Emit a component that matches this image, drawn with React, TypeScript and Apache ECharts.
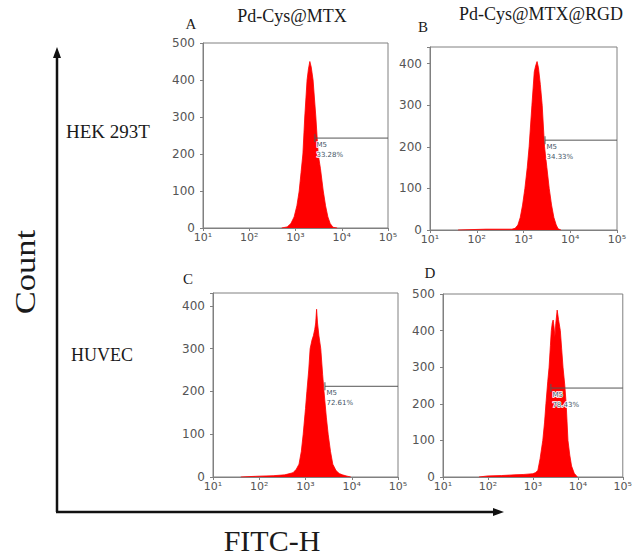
import React, { useEffect, useRef } from "react";
import * as echarts from "echarts";

// ---- data ----
const panelLetters = ["A", "B", "C", "D"];
const columnTitles = ["Pd-Cys@MTX", "Pd-Cys@MTX@RGD"];
const rowLabels = ["HEK 293T", "HUVEC"];
const xTickExponents = [1, 2, 3, 4, 5];
const yMaxes = [500, 440, 430, 500];

const aExp = [2.7, 2.82, 2.9, 2.97, 3.03, 3.08, 3.12, 3.16, 3.2, 3.25, 3.28, 3.31, 3.34, 3.38, 3.44, 3.49, 3.54, 3.6, 3.65, 3.7, 3.75, 3.81, 3.9];
const aCount = [0, 3, 12, 30, 60, 100, 150, 200, 300, 400, 430, 450, 435, 400, 300, 200, 160, 100, 60, 30, 12, 2, 0];

const bExp = [1.6, 2.2, 2.75, 2.82, 2.88, 2.93, 2.98, 3.03, 3.08, 3.12, 3.18, 3.23, 3.26, 3.29, 3.32, 3.36, 3.4, 3.45, 3.5, 3.55, 3.6, 3.65, 3.7, 3.74, 3.8];
const bCount = [0, 2, 2, 4, 12, 30, 60, 100, 150, 200, 300, 380, 395, 405, 390, 350, 300, 200, 150, 100, 60, 30, 12, 3, 0];

const cExp = [1.6, 2.0, 2.3, 2.55, 2.73, 2.8, 2.86, 2.91, 2.95, 3.0, 3.03, 3.07, 3.1, 3.14, 3.17, 3.2, 3.22, 3.24, 3.26, 3.29, 3.33, 3.37, 3.4, 3.45, 3.49, 3.54, 3.59, 3.66, 3.73, 3.8, 3.9, 3.98];
const cCount = [0, 2, 3, 5, 10, 18, 30, 60, 100, 160, 200, 250, 300, 320, 330, 345, 360, 392, 360, 330, 300, 240, 200, 140, 100, 60, 30, 15, 8, 5, 2, 0];

const dExp = [1.8, 2.0, 2.3, 2.6, 2.8, 3.0, 3.06, 3.11, 3.16, 3.22, 3.26, 3.29, 3.33, 3.36, 3.39, 3.41, 3.43, 3.45, 3.47, 3.49, 3.51, 3.54, 3.57, 3.61, 3.64, 3.67, 3.71, 3.74, 3.78, 3.82, 3.86, 3.92, 3.99];
const dCount = [0, 3, 4, 6, 7, 9, 12, 18, 50, 100, 150, 200, 260, 300, 360, 400, 420, 429, 410, 383, 420, 456, 430, 400, 350, 300, 250, 200, 100, 60, 30, 10, 0];

const histExp = [aExp, bExp, cExp, dExp];
const histCount = [aCount, bCount, cCount, dCount];

const m5Start = [3.42, 3.46, 3.42, 3.4];
const m5Level = [243, 216, 212, 243];
const m5Pct = ["33.28%", "34.33%", "72.61%", "78.43%"];

// ---- layout ----
const grids = [
  { left: 203, top: 43, width: 185, height: 185 },
  { left: 430, top: 47, width: 187, height: 183 },
  { left: 213, top: 293, width: 185, height: 184 },
  { left: 443, top: 294, width: 187, height: 183 },
];

const SUP: Record<string, string> = { "0": "⁰", "1": "¹", "2": "²", "3": "³", "4": "⁴", "5": "⁵", "6": "⁶" };

const serif = "'Liberation Serif', 'DejaVu Serif', serif";

export default function App() {
  const ref = useRef<HTMLDivElement>(null);
  useEffect(() => {
    if (!ref.current) return;
    const chart = echarts.init(ref.current, null, { renderer: "svg" });

    const xAxis = grids.map((_, i) => ({
      type: "log",
      logBase: 10,
      gridIndex: i,
      min: Math.pow(10, xTickExponents[0]),
      max: Math.pow(10, xTickExponents[xTickExponents.length - 1]),
      axisLine: { show: true, lineStyle: { color: "#808080", width: 1 } },
      axisTick: { show: true, length: 3, lineStyle: { color: "#808080" } },
      minorTick: { show: false },
      splitLine: { show: false },
      axisLabel: {
        color: "#555",
        fontSize: 11,
        fontFamily: "'DejaVu Sans', sans-serif",
        margin: 4,
        formatter: (v: number) => {
          const e = String(Math.round(Math.log10(v)));
          return "10" + e.split("").map((c) => SUP[c] || c).join("");
        },
      },
    }));

    const yAxis = grids.map((_, i) => ({
      type: "value",
      gridIndex: i,
      min: 0,
      max: yMaxes[i],
      interval: 100,
      axisLine: { show: true, lineStyle: { color: "#808080", width: 1 } },
      axisTick: { show: true, length: 3, lineStyle: { color: "#808080" } },
      splitLine: { show: false },
      axisLabel: {
        color: "#555",
        fontSize: 12,
        fontFamily: "'DejaVu Sans', sans-serif",
        margin: 8,
        formatter: (v: number) => (v % 100 === 0 ? String(v) : ""),
      },
    }));

    const series: any[] = [];
    grids.forEach((_, i) => {
      series.push({
        type: "line",
        xAxisIndex: i,
        yAxisIndex: i,
        showSymbol: false,
        symbol: "none",
        smooth: false,
        lineStyle: { color: "#ff0000", width: 0.8 },
        areaStyle: { color: "#ff0000", opacity: 1 },
        data: histExp[i].map((e, k) => [Math.pow(10, e), histCount[i][k]]),
        z: 2,
      });
      series.push({
        type: "line",
        xAxisIndex: i,
        yAxisIndex: i,
        lineStyle: { color: "#555", width: 1 },
        z: 3,
        data: [
          {
            value: [Math.pow(10, m5Start[i]), m5Level[i]],
            symbol: "rect",
            symbolSize: [1, 8],
            itemStyle: { color: "#555" },
            label: {
              show: true,
              position: [2, 6],
              align: "left",
              verticalAlign: "top",
              formatter: "M5\n" + m5Pct[i],
              fontSize: 7,
              lineHeight: 10,
              color: "#445566",
              textBorderColor: "#ffffff",
              textBorderWidth: 1.5,
              fontFamily: "'DejaVu Sans', sans-serif",
            },
          },
          {
            value: [Math.pow(10, xTickExponents[xTickExponents.length - 1]), m5Level[i]],
            symbol: "none",
          },
        ],
      });
    });

    const textStyle = (size: number) => ({ fill: "#1a1a1a", font: `${size}px ${serif}` });

    const graphic: any[] = [
      // big axes
      { type: "line", shape: { x1: 57, y1: 56, x2: 57, y2: 512 }, style: { stroke: "#111", lineWidth: 2.5 } },
      { type: "line", shape: { x1: 56, y1: 512, x2: 495, y2: 512 }, style: { stroke: "#111", lineWidth: 2.5 } },
      { type: "polygon", shape: { points: [[57, 47], [53, 58], [61, 58]] }, style: { fill: "#111" } },
      { type: "polygon", shape: { points: [[504, 512], [493, 508], [493, 516]] }, style: { fill: "#111" } },
      // titles
      { type: "text", x: 292, y: 25, style: { ...textStyle(18), text: columnTitles[0], textAlign: "center", textVerticalAlign: "bottom" } },
      { type: "text", x: 541, y: 23, style: { ...textStyle(18), text: columnTitles[1], textAlign: "center", textVerticalAlign: "bottom" } },
      { type: "text", x: 191, y: 31, style: { ...textStyle(15), text: panelLetters[0], textAlign: "center", textVerticalAlign: "bottom" } },
      { type: "text", x: 423, y: 34, style: { ...textStyle(15), text: panelLetters[1], textAlign: "center", textVerticalAlign: "bottom" } },
      { type: "text", x: 188, y: 286, style: { ...textStyle(15), text: panelLetters[2], textAlign: "center", textVerticalAlign: "bottom" } },
      { type: "text", x: 430, y: 280, style: { ...textStyle(15), text: panelLetters[3], textAlign: "center", textVerticalAlign: "bottom" } },
      // row labels
      { type: "text", x: 66, y: 141, style: { ...textStyle(19), text: rowLabels[0], textAlign: "left", textVerticalAlign: "bottom" } },
      { type: "text", x: 71, y: 364, style: { ...textStyle(18), text: rowLabels[1], textAlign: "left", textVerticalAlign: "bottom" } },
      // axis titles
      { type: "text", x: 272, y: 540, style: { ...textStyle(30), text: "FITC-H", textAlign: "center", textVerticalAlign: "middle" } },
      {
        type: "text",
        x: 25,
        y: 272,
        rotation: Math.PI / 2,
        scaleX: 1.15,
        style: { ...textStyle(30), text: "Count", textAlign: "center", textVerticalAlign: "middle" },
      },
    ];

    chart.setOption({
      animation: false,
      backgroundColor: "#fff",
      grid: grids.map((g) => ({ ...g, show: true, borderColor: "#808080", borderWidth: 1, backgroundColor: "transparent" })),
      xAxis,
      yAxis,
      series,
      graphic,
    });
    return () => chart.dispose();
  }, []);

  return (
    <div
      ref={ref}
      style={{ position: "absolute", left: 0, top: 0, width: 635, height: 555, background: "#fff" }}
    />
  );
}
